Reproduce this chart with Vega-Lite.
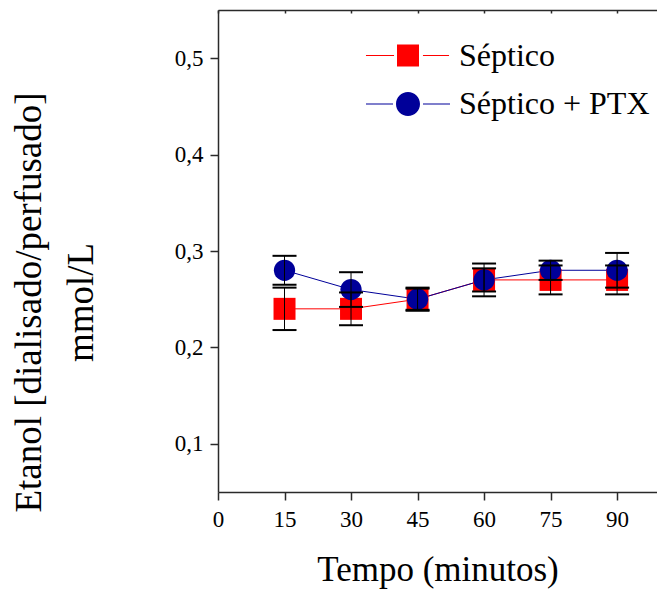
{
  "$schema": "https://vega.github.io/schema/vega-lite/v6.json",
  "width": 439,
  "height": 482,
  "autosize": {"type": "none"},
  "padding": {"left": 218, "top": 10, "right": 0, "bottom": 98},
  "background": "white",
  "data": {
    "values": [
      {"tempo": 15, "grupo": "Séptico", "media": 0.24, "lo": 0.218, "hi": 0.262},
      {"tempo": 30, "grupo": "Séptico", "media": 0.24, "lo": 0.223, "hi": 0.257},
      {"tempo": 45, "grupo": "Séptico", "media": 0.25, "lo": 0.238, "hi": 0.262},
      {"tempo": 60, "grupo": "Séptico", "media": 0.27, "lo": 0.258, "hi": 0.282},
      {"tempo": 75, "grupo": "Séptico", "media": 0.27, "lo": 0.255, "hi": 0.285},
      {"tempo": 90, "grupo": "Séptico", "media": 0.27, "lo": 0.255, "hi": 0.285},
      {"tempo": 15, "grupo": "Séptico + PTX", "media": 0.28, "lo": 0.265, "hi": 0.295},
      {"tempo": 30, "grupo": "Séptico + PTX", "media": 0.26, "lo": 0.242, "hi": 0.278},
      {"tempo": 45, "grupo": "Séptico + PTX", "media": 0.25, "lo": 0.239, "hi": 0.261},
      {"tempo": 60, "grupo": "Séptico + PTX", "media": 0.27, "lo": 0.253, "hi": 0.287},
      {"tempo": 75, "grupo": "Séptico + PTX", "media": 0.28, "lo": 0.270, "hi": 0.290},
      {"tempo": 90, "grupo": "Séptico + PTX", "media": 0.28, "lo": 0.262, "hi": 0.298}
    ]
  },
  "resolve": {
    "axis": {"x": "independent", "y": "independent"},
    "legend": {"color": "independent"}
  },
  "layer": [
    {
      "mark": {"type": "line", "strokeWidth": 1},
      "encoding": {
        "x": {
          "field": "tempo", "type": "quantitative",
          "scale": {"domain": [0, 99], "nice": false, "zero": false},
          "axis": {"orient": "top", "labels": false, "title": null, "values": [0, 15, 30, 45, 60, 75, 90], "tickSize": -3}
        },
        "y": {
          "field": "media", "type": "quantitative",
          "scale": {"domain": [0.05, 0.55], "nice": false, "zero": false},
          "axis": {
            "values": [0.1, 0.2, 0.3, 0.4, 0.5],
            "labelExpr": "replace(format(datum.value, '.1f'), '.', ',')",
            "tickSize": 8,
            "labelPadding": 7,
            "title": ["Etanol [dialisado/perfusado]", "mmol/L"],
            "titleFontSize": 37,
            "titleX": -178,
            "titleY": 292,
            "titleBaseline": "alphabetic",
            "titleAlign": "center",
            "titleLineHeight": 52
          }
        },
        "color": {
          "field": "grupo", "type": "nominal",
          "scale": {"domain": ["Séptico", "Séptico + PTX"], "range": ["#ff0000", "#000099"]},
          "legend": null
        },
        "detail": {"field": "grupo"}
      }
    },
    {
      "transform": [{"filter": "datum.grupo === 'Séptico'"}],
      "mark": {"type": "point", "shape": "square", "filled": true, "size": 484, "opacity": 1},
      "encoding": {
        "x": {
          "field": "tempo", "type": "quantitative",
          "axis": {
            "orient": "bottom",
            "values": [0, 15, 30, 45, 60, 75, 90],
            "tickSize": 8,
            "labelPadding": 8,
            "labelFlush": false,
            "title": "Tempo (minutos)",
            "titleFontSize": 35,
            "titleBaseline": "alphabetic",
            "titleY": 88
          }
        },
        "y": {"field": "media", "type": "quantitative", "axis": null},
        "color": {
          "field": "grupo", "type": "nominal",
          "legend": {
            "values": ["Séptico"],
            "orient": "none",
            "legendX": 174,
            "legendY": 29.5,
            "title": null,
            "padding": 0,
            "labelFontSize": 32,
            "labelOffset": 35,
            "symbolSize": 484,
            "symbolType": "M-3.82,-0.055H-1.27V0.055H-3.82ZM-1,-1H1V1H-1ZM1.36,-0.055H3.73V0.055H1.36Z"
          }
        }
      }
    },
    {
      "transform": [{"filter": "datum.grupo === 'Séptico + PTX'"}],
      "mark": {"type": "point", "shape": "circle", "filled": true, "size": 452, "opacity": 1},
      "encoding": {
        "x": {"field": "tempo", "type": "quantitative", "axis": null},
        "y": {"field": "media", "type": "quantitative", "axis": null},
        "color": {
          "field": "grupo", "type": "nominal",
          "legend": {
            "values": ["Séptico + PTX"],
            "orient": "none",
            "legendX": 174,
            "legendY": 78,
            "title": null,
            "padding": 0,
            "labelFontSize": 32,
            "labelOffset": 35,
            "symbolSize": 484,
            "symbolType": "M-3.82,-0.055H-1.36V0.055H-3.82ZM-1.09,0A1.09,1.09,0,1,0,1.09,0A1.09,1.09,0,1,0,-1.09,0ZM1.36,-0.055H3.82V0.055H1.36Z"
          }
        }
      }
    },
    {
      "mark": {"type": "rule", "color": "black", "strokeWidth": 1},
      "encoding": {
        "x": {"field": "tempo", "type": "quantitative", "axis": null},
        "y": {"field": "lo", "type": "quantitative", "axis": null},
        "y2": {"field": "hi"}
      }
    },
    {
      "mark": {"type": "tick", "orient": "horizontal", "color": "black", "size": 24, "thickness": 2, "opacity": 1},
      "encoding": {
        "x": {"field": "tempo", "type": "quantitative", "axis": null},
        "y": {"field": "lo", "type": "quantitative", "axis": null}
      }
    },
    {
      "mark": {"type": "tick", "orient": "horizontal", "color": "black", "size": 24, "thickness": 2, "opacity": 1},
      "encoding": {
        "x": {"field": "tempo", "type": "quantitative", "axis": null},
        "y": {"field": "hi", "type": "quantitative", "axis": null}
      }
    }
  ],
  "config": {
    "view": {"stroke": null},
    "font": "Liberation Serif",
    "legend": {
      "labelFont": "Liberation Serif",
      "labelColor": "black",
      "labelLimit": 400,
      "symbolOpacity": 1,
      "symbolStrokeColor": "transparent",
      "symbolStrokeWidth": 0.01
    },
    "axis": {
      "grid": false,
      "labelFont": "Liberation Serif",
      "labelFontSize": 23,
      "labelColor": "black",
      "titleFont": "Liberation Serif",
      "titleFontWeight": "normal",
      "titleColor": "black",
      "domainColor": "#2a2a2a",
      "domainWidth": 1.5,
      "tickColor": "#2a2a2a",
      "tickWidth": 1.5
    }
  }
}
